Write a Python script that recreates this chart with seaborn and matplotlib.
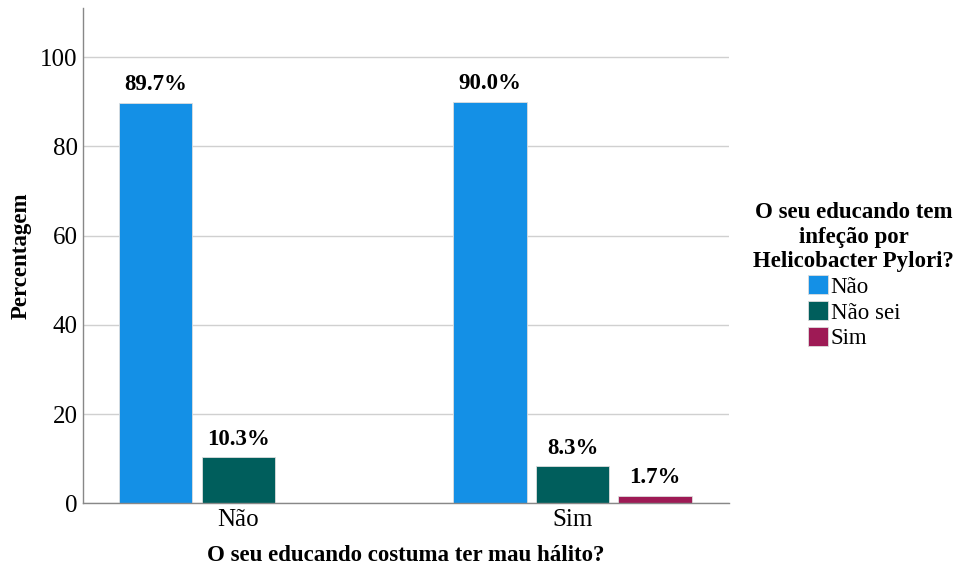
import numpy as np
import pandas as pd
import matplotlib
matplotlib.use("Agg")
import matplotlib.pyplot as plt
import seaborn as sns

# data
halito = ["Não", "Não", "Sim", "Sim", "Sim"]
helico = ["Não", "Não sei", "Não", "Não sei", "Sim"]
percent = [89.7, 10.3, 90.0, 8.3, 1.7]

hue_order = ["Não", "Não sei", "Sim"]
colors = ["#1490e6", "#005e5c", "#9e1a55"]

df = pd.DataFrame({"halito": halito, "helico": helico, "pct": percent})

sns.set_style("white")
plt.rcParams["font.family"] = ["Liberation Serif", "DejaVu Serif"]
plt.rcParams["text.color"] = "black"
plt.rcParams["axes.labelcolor"] = "black"
plt.rcParams["xtick.color"] = "black"
plt.rcParams["ytick.color"] = "black"

fig = plt.figure(figsize=(9.55, 5.68), dpi=100)
ax = fig.add_axes([0.087, 0.114, 0.676, 0.872])

sns.barplot(data=df, x="halito", y="pct", hue="helico", hue_order=hue_order,
            order=["Não", "Sim"], palette=colors, saturation=1,
            width=0.74, gap=0.11, edgecolor="#dddddd", linewidth=0.6, ax=ax)

for cont in ax.containers:
    for bar in cont:
        h = bar.get_height()
        if np.isnan(h) or h == 0:
            continue
        ax.annotate(f"{h:.1f}%", (bar.get_x() + bar.get_width() / 2, h),
                    xytext=(0, 9), textcoords="offset points",
                    ha="center", va="baseline", fontsize=16.5, fontweight="bold")

ax.set_xlim(-0.464, 1.467)
ax.set_ylim(0, 111)
ax.set_yticks([0, 20, 40, 60, 80, 100])
ax.yaxis.grid(True, color="#d0d0d0", linewidth=1)
ax.set_axisbelow(True)
for s in ["top", "right"]:
    ax.spines[s].set_visible(False)
for s in ["left", "bottom"]:
    ax.spines[s].set_color("#888888")
    ax.spines[s].set_linewidth(1)
ax.tick_params(axis="both", length=0, labelsize=18, pad=4)

ax.set_xlabel("O seu educando costuma ter mau hálito?", fontsize=16.5,
              fontweight="bold", labelpad=10)
ax.set_ylabel("Percentagem", fontsize=16.5, fontweight="bold", labelpad=6)

leg = ax.legend(title="O seu educando tem\ninfeção por\nHelicobacter Pylori?",
                loc="center", bbox_to_anchor=(1.194, 0.459), frameon=False,
                fontsize=16.5, title_fontsize=16.5, handlelength=0.9,
                handleheight=0.9, handletextpad=0.1, labelspacing=0.15)
leg.get_title().set_fontweight("bold")
leg.get_title().set_multialignment("center")

fig.savefig("out.png", dpi=100)
